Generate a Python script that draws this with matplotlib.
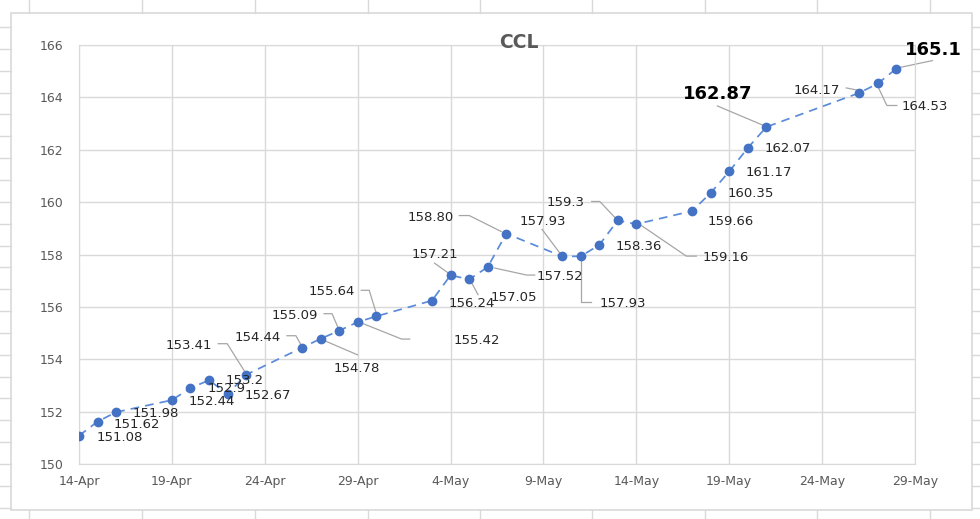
import datetime as dt

import matplotlib
matplotlib.use("Agg")
import matplotlib.dates as mdates
import matplotlib.pyplot as plt
import numpy as np
from matplotlib.lines import Line2D
from matplotlib.patches import Rectangle

# CCL quote per business day (2021)
days = [
    "2021-04-14", "2021-04-15", "2021-04-16",
    "2021-04-19", "2021-04-20", "2021-04-21", "2021-04-22", "2021-04-23",
    "2021-04-26", "2021-04-27", "2021-04-28", "2021-04-29", "2021-04-30",
    "2021-05-03", "2021-05-04", "2021-05-05", "2021-05-06", "2021-05-07",
    "2021-05-10", "2021-05-11", "2021-05-12", "2021-05-13", "2021-05-14",
    "2021-05-17", "2021-05-18", "2021-05-19", "2021-05-20", "2021-05-21",
    "2021-05-26", "2021-05-27", "2021-05-28",
]
values = [
    151.08, 151.62, 151.98,
    152.44, 152.90, 153.20, 152.67, 153.41,
    154.44, 154.78, 155.09, 155.42, 155.64,
    156.24, 157.21, 157.05, 157.52, 158.80,
    157.93, 157.93, 158.36, 159.30, 159.16,
    159.66, 160.35, 161.17, 162.07, 162.87,
    164.17, 164.53, 165.10,
]
labels = [
    "151.08", "151.62", "151.98",
    "152.44", "152.9", "153.2", "152.67", "153.41",
    "154.44", "154.78", "155.09", "155.42", "155.64",
    "156.24", "157.21", "157.05", "157.52", "158.80",
    "157.93", "157.93", "158.36", "159.3", "159.16",
    "159.66", "160.35", "161.17", "162.07", "162.87",
    "164.17", "164.53", "165.1",
]
highlight = {"162.87", "165.1"}

y_ticks = [150, 152, 154, 156, 158, 160, 162, 164, 166]

# label placement, pixels from the point (x right, y down), as dragged in Excel
label_offsets = [
    (41, 0), (39, 1), (40, 0), (40, 0), (36, -1), (36, -1), (40, 0), (-57, -31),
    (-44, -12), (36, 28), (-44, -17), (119, 17), (-44, -26), (40, 1), (-16, -22),
    (45, 17), (72, 8), (-76, -18), (-19, -36), (42, 46), (40, 0), (-52, -19),
    (89, 32), (39, 9), (40, -1), (40, 0), (40, -1), (-49, -35), (-43, -4),
    (47, 22), (37, -21),
]
leaders = {
    7: [(-2, -4), (-19, -31), (-28, -31)],
    8: [(-1, -3), (-6, -12), (-15, -12)],
    9: [(2, 1), (37, 16)],
    10: [(-1, -3), (-7, -17), (-15, -17)],
    11: [(4, 1), (44, 17), (52, 17)],
    12: [(0, -3), (-7, -26), (-15, -26)],
    13: [(39, -19), (46, -6)],
    14: [(-2, -2), (-16, -12)],
    16: [(7, 1), (39, 8), (47, 8)],
    17: [(-5, -2), (-37, -18), (-47, -18)],
    18: [(-2, -3), (-20, -27)],
    19: [(0, 4), (0, 46), (10, 46)],
    21: [(-1, -1), (-18, -19), (-26, -19)],
    22: [(3, 0), (50, 32), (60, 32)],
    27: [(-4, -2), (-49, -21)],
    28: [(-3, -3), (-13, -5)],
    29: [(1, 5), (9, 22), (19, 22)],
    30: [(3, -1), (36, -8)],
}

W, H = 980, 519
GRID = "#d9d9d9"
TICK = "#595959"

dates = [dt.datetime.strptime(d, "%Y-%m-%d") for d in days]
xs = mdates.date2num(dates)

fig = plt.figure(figsize=(W / 100, H / 100), dpi=100)
ax = fig.add_axes([79 / W, 1 - 464 / H, (915 - 79) / W, (464 - 45) / H])

ax.plot(xs, values, color="#5b8bd9", lw=1.25, dashes=(5, 3.5), zorder=3)
ax.plot(xs, values, "o", color="#4472c4", ms=6, zorder=4)

ax.set_xlim(mdates.date2num(dt.datetime(2021, 4, 14)), mdates.date2num(dt.datetime(2021, 5, 29)))
ax.set_ylim(150, 166)
ax.set_yticks(y_ticks)
ax.xaxis.set_major_locator(mdates.DayLocator(bymonthday=[4, 9, 14, 19, 24, 29]))
ax.xaxis.set_major_formatter(mdates.DateFormatter("%-d-%b"))
ax.grid(True, color=GRID, lw=1)
ax.set_axisbelow(True)
for s in ax.spines.values():
    s.set_color(GRID)
ax.tick_params(length=0, labelsize=9, colors=TICK)
ax.tick_params(axis="y", pad=11)
ax.tick_params(axis="x", pad=8)

for i, (x, v, txt) in enumerate(zip(xs, values, labels)):
    dx, dy = label_offsets[i]
    big = txt in highlight
    ax.annotate(txt, xy=(x, v), xytext=(dx, -dy), textcoords="offset pixels",
                ha="center", va="center_baseline", fontsize=13 if big else 9.5,
                fontweight="bold" if big else "normal",
                color="#000000" if big else "#262626", zorder=5)
    if i in leaders:
        px, py = ax.transData.transform((x, v))
        pts = np.array([(px + ox, py - oy) for ox, oy in leaders[i]])
        dpts = ax.transData.inverted().transform(pts)
        ax.plot(dpts[:, 0], dpts[:, 1], color="#a6a6a6", lw=0.9, clip_on=False, zorder=2)

fig.text(519 / W, 1 - 41 / H, "CCL", ha="center", va="center_baseline",
         fontsize=13.5, fontweight="bold", color=TICK)

# chart border and the spreadsheet cells behind it
fig.patches.append(Rectangle((11 / W, 1 - 510 / H), (972 - 11) / W, (510 - 13) / H,
                             transform=fig.transFigure, fill=False, ec=GRID, lw=1.2))
for cx in [29, 142, 255, 368, 480, 592, 705, 817, 930]:
    fig.lines.append(Line2D([cx / W] * 2, [1, 1 - 13 / H], transform=fig.transFigure, color=GRID, lw=1))
    fig.lines.append(Line2D([cx / W] * 2, [1 - 510 / H, 0], transform=fig.transFigure, color=GRID, lw=1))
for k in range(23):
    ry = 1 - (27 + 21.85 * k) / H
    fig.lines.append(Line2D([0, 11 / W], [ry, ry], transform=fig.transFigure, color=GRID, lw=1))
    fig.lines.append(Line2D([972 / W, 1], [ry, ry], transform=fig.transFigure, color=GRID, lw=1))

fig.savefig("out.png", dpi=100)
